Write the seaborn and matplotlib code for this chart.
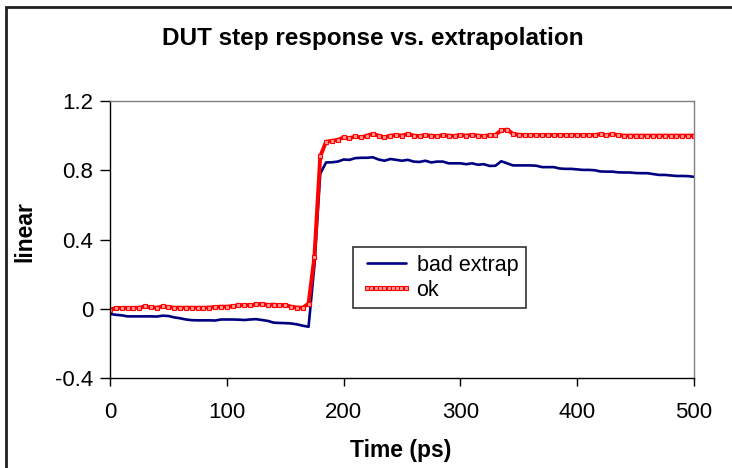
import numpy as np
import pandas as pd
import matplotlib
matplotlib.use("Agg")
import matplotlib.pyplot as plt
import matplotlib.patches as patches
import seaborn as sns

# time axis (ps), sampled every 5 ps
time_ps = list(range(0, 505, 5))

# "bad extrap" response
bad_extrap = [
    -0.030, -0.035, -0.038, -0.044, -0.044, -0.044, -0.044, -0.044, -0.045, -0.040,
    -0.042, -0.050, -0.055, -0.062, -0.066, -0.067, -0.067, -0.067, -0.068, -0.062,
    -0.062, -0.062, -0.063, -0.065, -0.062, -0.060, -0.065, -0.070, -0.080, -0.082,
    -0.083, -0.085, -0.090, -0.098, -0.104, 0.250, 0.780, 0.845, 0.846, 0.850,
    0.862, 0.860, 0.870, 0.872, 0.872, 0.875, 0.862, 0.855, 0.865, 0.860,
    0.855, 0.860, 0.850, 0.848, 0.855, 0.845, 0.850, 0.850, 0.840, 0.840,
    0.840, 0.835, 0.840, 0.832, 0.835, 0.825, 0.826, 0.852, 0.840, 0.828,
    0.828, 0.828, 0.828, 0.826, 0.818, 0.818, 0.818, 0.810, 0.808, 0.808,
    0.805, 0.802, 0.802, 0.800, 0.793, 0.792, 0.792, 0.788, 0.787, 0.787,
    0.784, 0.783, 0.783, 0.778, 0.773, 0.773, 0.770, 0.767, 0.767, 0.766,
    0.762,
]

# "ok" response
ok = [
    -0.006, 0.004, 0.005, 0.005, 0.005, 0.006, 0.013, 0.008, 0.006, 0.013,
    0.010, 0.006, 0.006, 0.006, 0.006, 0.006, 0.006, 0.007, 0.010, 0.012,
    0.012, 0.015, 0.020, 0.022, 0.020, 0.025, 0.028, 0.022, 0.024, 0.020,
    0.022, 0.012, 0.007, 0.006, 0.030, 0.300, 0.880, 0.965, 0.970, 0.975,
    0.990, 0.985, 0.995, 0.990, 1.000, 1.010, 1.000, 0.990, 1.000, 1.003,
    1.000, 1.010, 1.000, 0.998, 1.002, 1.000, 0.996, 1.003, 1.000, 0.998,
    1.004, 1.000, 1.005, 1.000, 0.998, 1.002, 1.005, 1.030, 1.035, 1.010,
    1.005, 1.004, 1.004, 1.004, 1.004, 1.004, 1.004, 1.004, 1.004, 1.004,
    1.004, 1.004, 1.004, 1.004, 1.008, 1.003, 1.008, 1.004, 1.000, 1.000,
    1.000, 1.000, 1.000, 1.000, 1.000, 1.000, 1.000, 1.000, 1.000, 1.000,
    1.000,
]

x_ticks = [0, 100, 200, 300, 400, 500]
y_ticks = [-0.4, 0, 0.4, 0.8, 1.2]
y_tick_labels = ["-0.4", "0", "0.4", "0.8", "1.2"]

df = pd.DataFrame({"time": time_ps, "bad extrap": bad_extrap, "ok": ok})

sns.set_style("white")
plt.rcParams["font.family"] = ["Liberation Sans", "DejaVu Sans"]
plt.rcParams["text.color"] = "black"
plt.rcParams["xtick.color"] = "black"
plt.rcParams["ytick.color"] = "black"
plt.rcParams["axes.labelcolor"] = "black"

fig = plt.figure(figsize=(7.32, 4.68), dpi=100)
ax = fig.add_axes([110 / 732, 90 / 468, 584 / 732, 277 / 468])

sns.lineplot(data=df, x="time", y="bad extrap", ax=ax, color="#000080",
             linewidth=1.9, label="bad extrap")
sns.lineplot(data=df, x="time", y="ok", ax=ax, color="#ff0000",
             linewidth=2.8, marker="s", markersize=3.5, markerfacecolor="#ff9a9a",
             markeredgecolor="#ff0000", markeredgewidth=0.8, label="ok")

ax.set_xlim(0, 500)
ax.set_ylim(-0.4, 1.2)
ax.set_xticks(x_ticks)
ax.set_xticklabels([str(v) for v in x_ticks])
ax.set_yticks(y_ticks)
ax.set_yticklabels(y_tick_labels)
ax.set_xlabel("")
ax.set_ylabel("")

for s in ["left", "bottom"]:
    ax.spines[s].set_color("black")
    ax.spines[s].set_linewidth(1.0)
for s in ["top", "right"]:
    ax.spines[s].set_color("#808080")
    ax.spines[s].set_linewidth(1.0)

ax.tick_params(axis="x", direction="out", length=6, width=1, color="black",
               labelcolor="black", bottom=True, labelsize=16, pad=11)
ax.tick_params(axis="y", direction="out", length=7, width=1, color="black",
               labelcolor="black", left=True, labelsize=16, pad=5)

leg = ax.legend(loc="upper left", bbox_to_anchor=(353 / 732, 1 - 247 / 468),
                bbox_transform=fig.transFigure, borderaxespad=0, frameon=True,
                fancybox=False, fontsize=15.5, handlelength=2.4, handletextpad=0.2,
                numpoints=10, borderpad=0.35, labelspacing=0.2)
leg.get_frame().set_edgecolor("black")
leg.get_frame().set_linewidth(1.2)
for t in leg.get_texts():
    t.set_color("black")

fig.text(373 / 732, 1 - 38.5 / 468, "DUT step response vs. extrapolation",
         ha="center", va="center", fontsize=17.5, fontweight="bold", color="black")
fig.text(401 / 732, 1 - 451 / 468, "Time (ps)", ha="center", va="center",
         fontsize=16.5, fontweight="bold", color="black")
fig.text(25 / 732, 1 - 232 / 468, "linear", ha="center", va="center",
         rotation=90, fontsize=16.5, fontweight="bold", color="black")

# outer chart border
fig.patches.append(patches.Rectangle((6 / 732, -0.05), 730 / 732, 1 - 7 / 468 + 0.05,
                                     transform=fig.transFigure, fill=False,
                                     edgecolor="#202020", linewidth=2.0))

fig.savefig("out.png", dpi=100)
